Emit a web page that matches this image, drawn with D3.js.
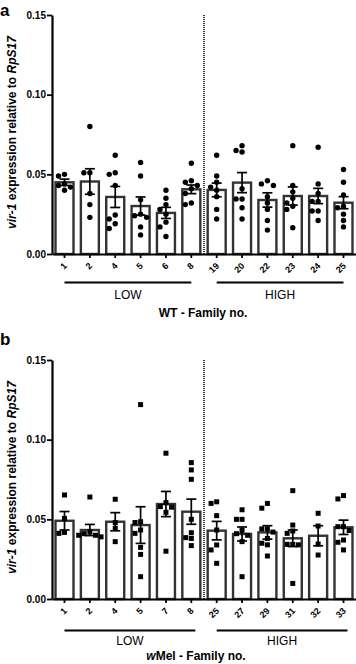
<!DOCTYPE html>
<html>
<head>
<meta charset="utf-8">
<script src="https://cdn.jsdelivr.net/npm/d3@7"></script>
<style>
  body { margin: 0; background: #fff; }
  svg { display: block; font-family: "Liberation Sans", Arial, sans-serif; }
</style>
</head>
<body>
<svg id="fig"></svg>
<script>
// ---- data ----
const yTicks = [0, 0.05, 0.10, 0.15];
const groupNames = ['LOW', 'HIGH'];

// panel a (WT)
const famA = ['1', '2', '4', '5', '6', '8', '19', '20', '22', '23', '24', '25'];
const groupA = ['LOW', 'LOW', 'LOW', 'LOW', 'LOW', 'LOW', 'HIGH', 'HIGH', 'HIGH', 'HIGH', 'HIGH', 'HIGH'];
const meanA = [0.0450, 0.0455, 0.0358, 0.0301, 0.0258, 0.0406, 0.0402, 0.0448, 0.0339, 0.0364, 0.0364, 0.0322];
const semA = [0.0020, 0.0080, 0.0066, 0.0057, 0.0035, 0.0027, 0.0043, 0.0063, 0.0045, 0.0057, 0.0048, 0.0038];
const ptsA = [
    [0.050, 0.049, 0.044, 0.043, 0.042, 0.040],
    [0.080, 0.051, 0.051, 0.038, 0.031, 0.023],
    [0.062, 0.051, 0.050, 0.043, 0.0245, 0.022, 0.019, 0.016],
    [0.0575, 0.049, 0.034, 0.025, 0.024, 0.023, 0.017, 0.012],
    [0.040, 0.035, 0.031, 0.028, 0.025, 0.020, 0.017, 0.011],
    [0.057, 0.046, 0.045, 0.043, 0.041, 0.038, 0.032, 0.031],
    [0.062, 0.049, 0.045, 0.042, 0.040, 0.036, 0.028, 0.022],
    [0.068, 0.065, 0.064, 0.041, 0.0345, 0.0345, 0.029, 0.022],
    [0.046, 0.044, 0.043, 0.036, 0.032, 0.028, 0.021, 0.015],
    [0.068, 0.043, 0.039, 0.035, 0.032, 0.030, 0.028, 0.0165],
    [0.067, 0.044, 0.038, 0.033, 0.033, 0.027, 0.027, 0.021],
    [0.053, 0.045, 0.037, 0.030, 0.029, 0.025, 0.021, 0.017]
];

// panel b (wMel)
const famB = ['1', '2', '4', '5', '7', '8', '25', '27', '29', '31', '32', '33'];
const groupB = ['LOW', 'LOW', 'LOW', 'LOW', 'LOW', 'LOW', 'HIGH', 'HIGH', 'HIGH', 'HIGH', 'HIGH', 'HIGH'];
const meanB = [0.0491, 0.0433, 0.0485, 0.0464, 0.0596, 0.0548, 0.0429, 0.0408, 0.0418, 0.0381, 0.0397, 0.0450];
const semB = [0.0058, 0.0035, 0.0057, 0.0115, 0.0079, 0.0079, 0.0058, 0.0044, 0.0042, 0.0052, 0.0063, 0.0045];
const ptsB = [
    [0.0653, 0.0506, 0.0418, 0.0412],
    [0.064, 0.042, 0.041, 0.040, 0.040, 0.039],
    [0.0626, 0.048, 0.0444, 0.036],
    [0.122, 0.0485, 0.048, 0.0433, 0.0412, 0.0324, 0.028, 0.014],
    [0.0915, 0.0605, 0.058, 0.0576, 0.0544, 0.030],
    [0.0856, 0.081, 0.0751, 0.050, 0.0416, 0.0385, 0.038, 0.0335],
    [0.061, 0.060, 0.0523, 0.0433, 0.0339, 0.0308, 0.0224],
    [0.056, 0.050, 0.050, 0.043, 0.041, 0.040, 0.036, 0.014],
    [0.060, 0.057, 0.044, 0.044, 0.042, 0.038, 0.035, 0.034, 0.027],
    [0.068, 0.0464, 0.0427, 0.0412, 0.0343, 0.0343, 0.034, 0.0098],
    [0.0538, 0.0458, 0.0345, 0.0276],
    [0.0649, 0.0628, 0.0454, 0.0454, 0.043, 0.037, 0.0356, 0.0308]
];

class BarDotPlot {

    constructor( config ) {
        this.config = config;
        this.init();
    }

    init() {
        let self = this;
        const c = self.config;

        self.g = d3.select('#fig').append('g')
            .attr('transform', `translate(0, ${c.top})`);

        self.xscale = d3.scaleBand()
            .domain(c.fam)
            .range([c.left, c.right])
            .paddingInner(0.29)
            .paddingOuter(0.138);

        self.yscale = d3.scaleLinear()
            .domain([0, 0.15])
            .range([c.height, 0]);

        self.render();
    }

    // place dots side by side when they would overlap
    swarm( values, cx ) {
        const r = this.config.r;
        const placed = [];
        values.slice().sort((a, b) => b - a).forEach(v => {
            const y = this.yscale(v);
            const steps = [0, -1, 1, -2, 2, -3, 3];
            for (const s of steps) {
                const x = cx + s * (2 * r + 0.6);
                const hit = placed.some(p => (p.x - x) ** 2 + (p.y - y) ** 2 < (2 * r) ** 2);
                if (!hit) { placed.push({x, y}); break; }
            }
        });
        return placed;
    }

    render() {
        let self = this;
        const c = self.config;
        const x = self.xscale, y = self.yscale;
        const bw = x.bandwidth();
        const rows = c.fam.map((f, i) => ({fam: f, mean: c.mean[i], sem: c.sem[i], pts: c.pts[i], group: c.group[i]}));

        // dotted separator between LOW and HIGH
        const lastLow = c.group.lastIndexOf('LOW');
        const sepX = (x(c.fam[lastLow]) + bw + x(c.fam[lastLow + 1])) / 2;
        self.g.append('line')
            .attr('x1', sepX).attr('x2', sepX)
            .attr('y1', y(0.15)).attr('y2', y(0))
            .attr('stroke', '#000')
            .attr('stroke-width', 1.6)
            .attr('stroke-dasharray', '1,1');

        self.g.selectAll('rect.bar')
            .data(rows)
            .join('rect')
            .attr('class', 'bar')
            .attr('x', d => x(d.fam))
            .attr('y', d => y(d.mean))
            .attr('width', bw)
            .attr('height', d => y(0) - y(d.mean))
            .attr('fill', '#fff')
            .attr('stroke', '#333')
            .attr('stroke-width', 2.4);

        rows.forEach(d => {
            const cx = x(d.fam) + bw / 2;
            const dots = self.swarm(d.pts, cx);
            if (c.shape === 'circle') {
                self.g.selectAll(null)
                    .data(dots)
                    .join('circle')
                    .attr('cx', p => p.x)
                    .attr('cy', p => p.y)
                    .attr('r', c.r)
                    .attr('fill', '#000');
            } else {
                self.g.selectAll(null)
                    .data(dots)
                    .join('rect')
                    .attr('x', p => p.x - c.r)
                    .attr('y', p => p.y - c.r)
                    .attr('width', 2 * c.r)
                    .attr('height', 2 * c.r)
                    .attr('fill', '#000');
            }
        });

        // mean +/- SEM
        const eb = self.g.selectAll('g.err')
            .data(rows)
            .join('g')
            .attr('class', 'err')
            .attr('transform', d => `translate(${x(d.fam) + bw / 2}, 0)`)
            .attr('stroke', '#000')
            .attr('stroke-width', 1.7);
        eb.append('line')
            .attr('y1', d => y(d.mean + d.sem))
            .attr('y2', d => y(d.mean - d.sem));
        eb.append('line')
            .attr('x1', -5).attr('x2', 5)
            .attr('y1', d => y(d.mean + d.sem)).attr('y2', d => y(d.mean + d.sem));
        eb.append('line')
            .attr('x1', -5).attr('x2', 5)
            .attr('y1', d => y(d.mean - d.sem)).attr('y2', d => y(d.mean - d.sem));

        // axes
        const yaxis = self.g.append('g')
            .attr('transform', `translate(${c.left}, 0)`)
            .call(d3.axisLeft(y).tickValues(yTicks).tickFormat(d3.format('.2f')).tickSize(5).tickPadding(1).tickSizeOuter(0));
        yaxis.select('.domain').attr('stroke-width', 2.2);
        yaxis.selectAll('.tick line').attr('stroke-width', 1.8);
        yaxis.selectAll('.tick text')
            .style('font-size', '10px')
            .style('font-weight', 'bold')
            .attr('fill', '#000');

        const xaxis = self.g.append('g')
            .attr('transform', `translate(0, ${c.height})`)
            .call(d3.axisBottom(x).tickSize(4).tickSizeOuter(0));
        xaxis.select('.domain').attr('stroke-width', 2.2);
        xaxis.selectAll('.tick line').attr('stroke-width', 1.8);
        xaxis.selectAll('.tick text')
            .attr('x', 0).attr('y', 0).attr('dy', 0)
            .attr('transform', 'translate(3, 12.5) rotate(-45)')
            .style('text-anchor', 'end')
            .style('font-size', '9px')
            .style('font-weight', 'bold')
            .attr('fill', '#000');

        // LOW / HIGH brackets
        groupNames.forEach(gname => {
            const members = c.fam.filter((f, i) => c.group[i] === gname);
            const x1 = x(members[0]) + bw / 2;
            const x2 = x(members[members.length - 1]) + bw / 2 + c.lineExt;
            self.g.append('line')
                .attr('x1', x1).attr('x2', x2)
                .attr('y1', c.height + c.lineY).attr('y2', c.height + c.lineY)
                .attr('stroke', '#000')
                .attr('stroke-width', 2);
            self.g.append('text')
                .attr('x', (x1 + x2) / 2)
                .attr('y', c.height + c.labelY)
                .attr('text-anchor', 'middle')
                .style('font-size', '12px')
                .text(gname);
        });

        // x title
        const title = self.g.append('text')
            .attr('x', c.titleX)
            .attr('y', c.height + c.titleY)
            .attr('text-anchor', 'middle')
            .style('font-size', '12px')
            .style('font-weight', 'bold');
        c.title.forEach(part => {
            title.append('tspan').style('font-style', part.italic ? 'italic' : 'normal').text(part.t);
        });

        // y title
        const ylab = self.g.append('text')
            .attr('transform', 'rotate(-90)')
            .attr('x', -(y(0.15) + y(0)) / 2 + 2)
            .attr('y', 16)
            .attr('text-anchor', 'middle')
            .style('font-size', '12px')
            .style('font-weight', 'bold');
        ylab.append('tspan').style('font-style', 'italic').text('vir-1');
        ylab.append('tspan').text(' expression relative to ');
        ylab.append('tspan').style('font-style', 'italic').text('RpS17');

        // panel letter
        self.g.append('text')
            .attr('x', 0)
            .attr('y', c.letterY)
            .style('font-size', '17px')
            .style('font-weight', 'bold')
            .text(c.letter);
    }
}

d3.select('#fig').attr('width', 356).attr('height', 664);

new BarDotPlot({
    top: 15, left: 52, right: 356, height: 239, r: 2.7, shape: 'circle',
    fam: famA, group: groupA, mean: meanA, sem: semA, pts: ptsA,
    lineY: 28.5, lineExt: 0, labelY: 44.5, titleY: 62.5, titleX: 203,
    title: [{t: 'WT - Family no.'}], letter: 'a', letterY: 0.5
});

new BarDotPlot({
    top: 360, left: 52, right: 356, height: 239, r: 2.5, shape: 'square',
    fam: famB, group: groupB, mean: meanB, sem: semB, pts: ptsB,
    lineY: 31.5, lineExt: 4, labelY: 46, titleY: 61, titleX: 196,
    title: [{t: 'w', italic: true}, {t: 'Mel - Family no.'}], letter: 'b', letterY: -15
});
</script>
</body>
</html>
